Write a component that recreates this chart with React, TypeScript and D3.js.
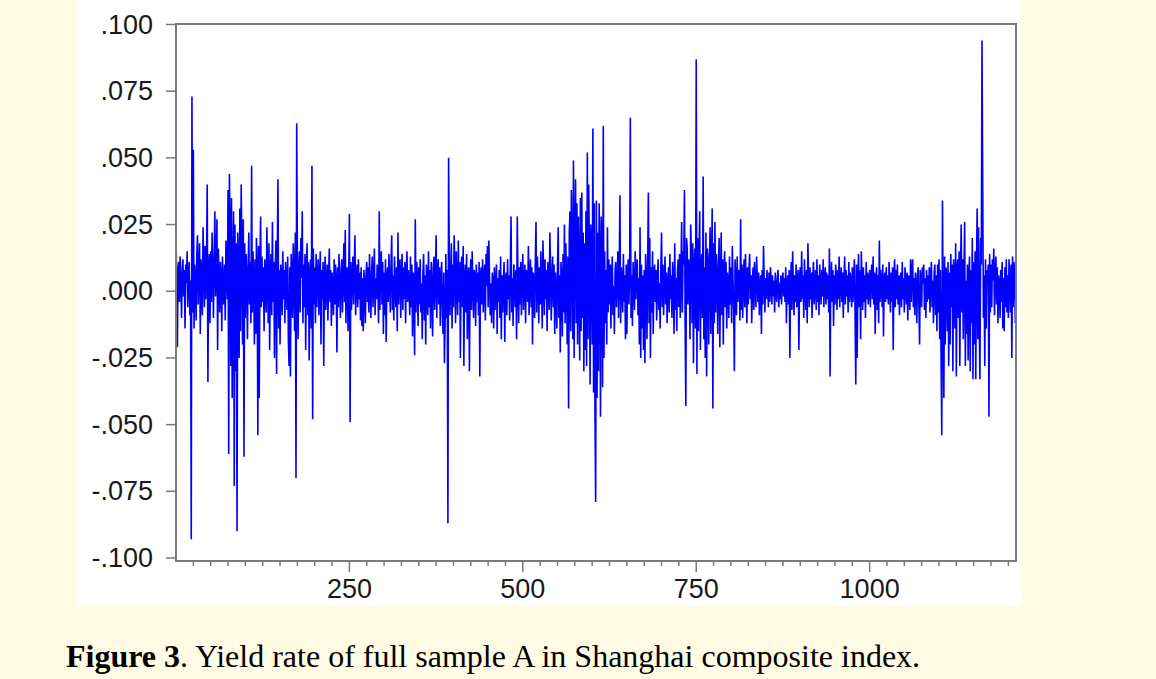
import React from 'react';
import * as d3 from 'd3';

// daily yield rate, in thousandths (1 = .001)
const yieldPart1 = [
  24, 2, -21, 9, 11, -4, 13, 5, -10, 7, 12, -2, 8, -14, 10, 3, 15, -6, 5, 11, -9, 4, -93, 73, -8,
  53, -14, 10, 6, -11, 14, 21, -5, 8, 18, -16, 12, 3, -9, 24, 9, -6, 17, -3, 11, 40, -34, 7, 14, -12,
  15, -4, 22, 8, -10, 12, 30, -2, 9, 27, -22, 16, 5, -8, 11, 6, -15, 13, 2, -5, 10, -11, 19, 7, -3,
  38, -61, 44, 21, -28, 35, -40, 8, 30, -73, 25, -30, 18, -90, 22, 10, -25, 31, -15, 40, 12, -20, 27, -62, 18,
  -10, 14, 6, -18, 9, 22, -5, 11, -12, 47, -8, 15, 4, -20, 12, -16, 20, 8, -54, 17, -40, 10, 28, -6, 13,
  -4, 9, -15, 12, 3, -8, 24, 5, -12, 18, -22, 7, 14, -9, 26, -4, 11, -25, 6, 19, -31, 13, 42, -14, 8,
  -20, 10, 5, -9, 15, -3, 8, -12, 11, 4, -7, 13, -18, -28, 9, -32, 14, 6, -10, 18, 3, -15, 22, -70, 63,
  12, -18, 9, 15, -8, 20, 5, 30, -12, 10, -6, 14, -22, 8, 18, -9, 11, -26, 6, 12, -14, 47, -48, 16, -5,
  9, -12, 14, -6, 5, 12, -9, 4, 15, -20, 8, -3, 11, -28, 6, 13, -7, 3, 10, -11, 5, 16, -4, 8, -13,
  7, 2, -9, 12, -5, 10, 4, -23, 9, -6, 14, 3, -10, 7, 12, -8, 5, 18, -4, 23, -12, 6, 9, -15, 4,
];
const yieldPart2 = [
  29, -49, 11, -7, 6, 13, -5, 8, 21, -9, 4, 10, -6, 12, -3, 7, -11, 9, -13, 5, -15, 8, 3, -12, 6,
  11, -4, 9, -8, 14, 2, -10, 7, 13, -6, 4, 16, -9, 5, -3, 10, 6, -12, 30, -7, 8, 15, -5, 11, -16,
  7, -9, 12, -19, 5, 9, -4, 14, 3, -8, 10, 21, -7, 6, -11, 13, 4, -6, 9, -15, 22, -5, 8, 12, -10,
  5, 14, -7, 9, -3, 11, -12, 6, 15, -4, 8, 2, -9, 13, -6, 10, -17, 7, 4, -24, 27, -8, 11, 5, -13,
  9, -5, 12, -8, 3, -18, 7, 14, -11, 6, -20, 10, 4, -9, 15, -6, 8, -14, 11, 2, -17, 9, 13, -7, 5,
  21, -10, 6, 12, -5, 9, -13, 4, 11, -8, -16, 7, -27, -12, 14, -10, 8, -87, 50, 12, -9, 6, 18, -14, 10,
  -6, 21, 8, -12, 15, 3, -9, 19, -4, 11, -25, 7, 13, -6, 17, -28, 5, 10, -8, 14, -18, 6, 9, -30, 4,
  12, -7, 15, 3, -10, 8, 5, -13, 10, -4, 7, -9, 11, -32, 6, 9, -5, 12, -8, 4, 10, -11, 14, 2, 17,
  -6, 19, 5, -9, 3, -12, 7, 4, -14, 9, -7, 2, 10, -16, 5, -4, 8, -10, 13, -18, 6, -8, 3, 11, -19,
  4, 7, -9, 12, -3, 6, -11, 9, 28, -8, 5, -13, 10, 3, -6, 8, -18, 28, 4, -12, 9, -5, 11, -9, 6,
];
const yieldPart3 = [
  14, -7, 3, 10, -12, 8, 5, -4, 17, -9, 6, 12, -6, 9, -20, 7, 4, -10, 11, 26, -8, 13, 5, -12, 9,
  -5, 15, 3, -14, 19, 6, -9, 12, -3, 8, -15, 11, 4, -7, 22, 9, -11, 5, 13, -6, 10, -16, 7, 2, -14,
  9, 24, -10, 6, -23, 11, 4, -17, 14, -8, 25, -12, 18, 5, -20, 13, -44, 22, 30, -15, 38, 12, -18, 49, -25,
  20, 42, -12, 33, -20, 28, 8, -26, 35, -15, 37, -10, 22, -30, 18, -22, 30, -28, 52, -18, 40, 14, -35, 25, 10,
  -20, 61, -38, 33, -45, -79, 34, -40, 22, -30, 33, 12, -47, 28, 20, -36, 62, -25, 15, -12, 8, -20, 24, -8, 12,
  -5, 10, -14, 6, 13, -9, 2, -16, 8, 11, -6, 4, 15, -10, 7, 36, -12, 9, 3, -8, 14, -4, 6, -18, 10,
  -16, 7, 12, -5, 9, 65, -10, 6, -13, 11, 4, -7, 15, -3, 8, 12, -9, 5, -20, 24, -25, 10, -14, 6, -22,
  8, -27, 14, 5, -18, 11, 37, -12, 20, -25, 9, -8, 15, -16, 6, 10, -4, 8, -11, 5, 12, -7, 3, -14, 9,
  22, -6, 10, -9, 4, 13, -5, 7, -12, 2, 9, -8, 14, -3, 6, -10, 11, 4, -16, 18, -7, 5, -15, 8, 12,
  -6, 14, -10, 7, 26, -8, 15, 10, 38, -12, -43, 20, 16, -5, 12, 9, -18, 25, 14, -12, 18, -27, 10, 16, -14,
];
const yieldPart4 = [
  87, -31, 20, -15, 12, 30, -22, 8, 14, -10, 43, -18, 9, -25, 22, -32, 16, 12, -20, 10, 24, -16, 8, 31, -44,
  18, -12, 26, -8, 14, 6, -16, 10, 20, -21, 4, 22, -9, 12, -20, 8, 15, -6, 11, -14, 7, 3, -10, 13, -5,
  9, -12, 17, 5, -8, -30, 12, 4, -9, 13, -4, 8, 6, -11, 27, -7, 10, -10, 5, 12, -6, 14, 3, -12, 9,
  -5, 8, 14, -3, 6, -12, 4, 9, -7, 11, 2, -6, 13, 5, -4, 7, -9, 3, 6, -16, 8, -5, 17, 4, -8,
  5, -3, 8, 2, -6, 7, -4, 9, 3, -5, 6, -2, 4, -8, 7, 1, -4, 5, 8, -6, 3, -3, 6, -5, 4,
  7, -2, 5, -4, 9, -12, 3, 6, -5, 8, -25, 4, 11, -7, 15, 2, -9, 6, -4, 10, -6, 3, 8, -22, 5,
  9, -4, 15, -3, 6, -10, 12, 2, -7, 8, -12, 18, 4, -6, 9, -3, 7, -10, 5, 11, -5, 3, 8, -7, 12,
  -4, 6, -9, 10, 3, -5, 8, -2, 12, -6, 4, 9, -5, 7, -3, 6, -8, 16, -32, 5, 11, -4, 8, -13, 6,
  -5, 10, 4, -7, 8, -3, 13, -6, 5, 9, -4, 7, -10, 3, 13, -5, 8, -2, 6, -8, 11, -4, 7, 3, -6,
  9, -4, 6, 12, -8, -35, 10, -25, 5, 14, -6, 8, -18, 15, 3, -7, 9, -4, 6, -10, 11, -3, 7, -5, 4,
];
const yieldPart5 = [
  8, -6, 5, 10, -3, 13, -5, 7, -16, 4, 9, -7, 6, -12, 19, -4, 8, 3, -6, 10, -17, 5, 7, -4, 9,
  -3, 6, -5, 11, 2, -8, 7, -4, 9, -22, 5, 12, -6, 8, -3, 10, -5, 6, -9, 4, 7, -6, 11, -3, 5,
  -8, 9, 3, -5, 7, -11, 6, 4, -7, 12, -4, 8, 12, -6, 5, -9, 7, 3, -12, 6, 9, -5, -20, 8, 4,
  -6, 9, 3, 10, -7, 5, -10, 8, -4, 6, -3, 9, -8, 5, 11, -6, 4, -12, 7, 10, -9, 6, -15, 10, -8,
  12, -18, 8, -25, -54, 34, -12, -40, 13, -20, 9, 5, -15, 11, -28, 7, -20, 14, -6, 10, -30, 12, 6, -14, 18,
  -32, 9, 12, -10, 15, -28, 8, 25, -8, 12, -18, 8, 26, -28, 4, -16, 10, -26, 6, 13, -30, 8, -12, 20, -33,
  11, -20, 15, -33, 8, 31, -18, 24, -12, -33, 20, 10, 94, 40, -10, 6, -28, 12, -14, 8, 4, 10, -47, 14, -8,
  10, -6, 12, 4, 16, -9, 7, 13, -5, 9, -12, 6, 3, -10, 8, -4, 11, -14, 5, -15, 9, -6, 12, -8, 6,
  -10, 12, 4, -8, 10, -25, 13, -6, 11, 8, -12, 13,
];

const yTicks = [0.1, 0.075, 0.05, 0.025, 0, -0.025, -0.05, -0.075, -0.1];
const yTickLabels = ['.100', '.075', '.050', '.025', '.000', '-.025', '-.050', '-.075', '-.100'];
const xTicks = [250, 500, 750, 1000];

const returns = [...yieldPart1, ...yieldPart2, ...yieldPart3, ...yieldPart4, ...yieldPart5].map((v) => v / 1000);

const W = 1156;
const H = 679;
const plot = { left: 176, right: 1016, top: 24, bottom: 561 };

export default function App() {
  const x = d3.scaleLinear().domain([0, returns.length - 1]).range([plot.left, plot.right]);
  const y = d3.scaleLinear().domain([-0.1, 0.1]).range([558, 24.5]);

  const line = d3.line<number>()
    .x((_, i) => x(i))
    .y((d) => y(d));

  const minorTicks = d3.range(25, returns.length, 25);
  const axisFont = "'Liberation Sans', Arial, sans-serif";

  return (
    <svg width={W} height={H} style={{ position: 'absolute', left: 0, top: 0 }}>
      <rect x={0} y={0} width={W} height={H} fill="#fffbe4" />
      <rect x={77} y={0} width={945} height={606} fill="#ffffff" />

      {/* series */}
      <path d={line(returns) || ''} fill="none" stroke="#0000ff" strokeWidth={1.6} strokeLinejoin="bevel" />

      {/* frame */}
      <rect
        x={plot.left}
        y={plot.top}
        width={plot.right - plot.left}
        height={plot.bottom - plot.top}
        fill="none"
        stroke="#7a7a7a"
        strokeWidth={2}
      />

      {/* y axis */}
      {yTicks.map((t, i) => (
        <g key={t}>
          <line x1={166} x2={plot.left} y1={y(t)} y2={y(t)} stroke="#7a7a7a" strokeWidth={1.5} />
          <text x={153} y={y(t) + 9} textAnchor="end" fontFamily={axisFont} fontSize={27} fill="#1a1a1a">
            {yTickLabels[i]}
          </text>
        </g>
      ))}

      {/* x axis */}
      {minorTicks.map((t) => (
        <line key={t} x1={x(t)} x2={x(t)} y1={plot.bottom} y2={plot.bottom + (t % 250 === 0 ? 11 : 5)} stroke="#7a7a7a" strokeWidth={1.5} />
      ))}
      {xTicks.map((t) => (
        <text key={t} x={x(t)} y={598} textAnchor="middle" fontFamily={axisFont} fontSize={27} fill="#1a1a1a">
          {t}
        </text>
      ))}

      <text x={66} y={667} fontFamily="'Liberation Serif', 'Times New Roman', serif" fontSize={32} fill="#000">
        <tspan fontWeight="bold">Figure 3</tspan>. Yield rate of full sample A in Shanghai composite index.
      </text>
    </svg>
  );
}
